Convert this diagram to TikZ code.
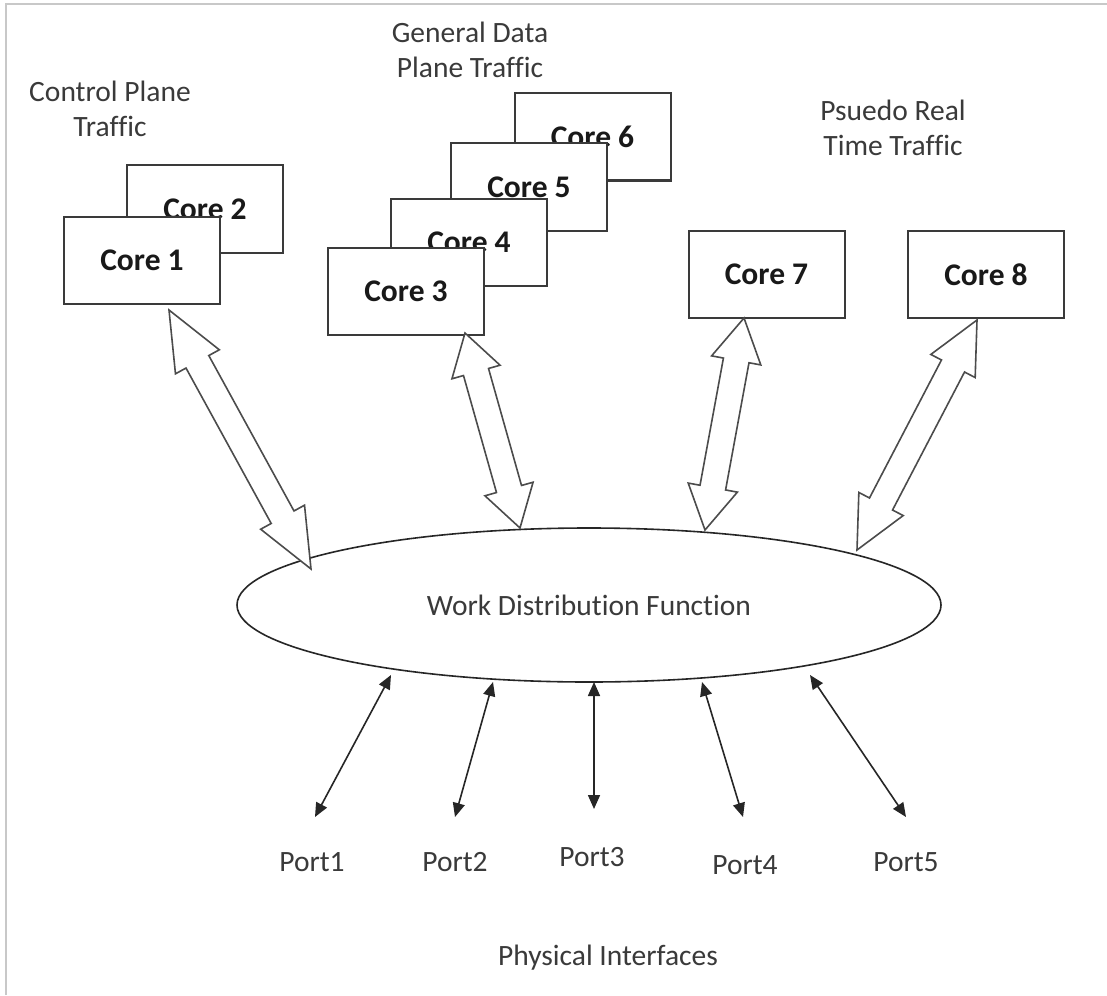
\documentclass[tikz,border=0pt]{standalone}
\usepackage{fontspec}
\setmainfont[Ligatures=NoCommon]{Carlito}
\usetikzlibrary{calc,arrows.meta,shapes.geometric}

\definecolor{inkgray}{RGB}{58,58,58}
\definecolor{framegray}{RGB}{200,200,200}

% Hollow double-headed block arrow between two named points
\newcommand\blockarrow[2]{%
  \coordinate (bah) at ($(#1)!0.2!(#2)$);
  \coordinate (bat) at ($(#2)!0.2!(#1)$);
  \draw[hollowarrow] (#1)
    -- ($(bah)!25pt!90:(#2)$) -- ($(bah)!13pt!90:(#2)$)
    -- ($(bat)!13pt!-90:(#1)$) -- ($(bat)!25pt!-90:(#1)$)
    -- (#2)
    -- ($(bat)!25pt!90:(#1)$) -- ($(bat)!13pt!90:(#1)$)
    -- ($(bah)!13pt!-90:(#2)$) -- ($(bah)!25pt!-90:(#2)$)
    -- cycle;}

\begin{document}
\begin{tikzpicture}[x=1pt, y=-1pt,
  corebox/.style={draw=inkgray, line width=2pt, fill=white,
    minimum width=156pt, minimum height=87pt, inner sep=0pt,
    text=black!90, font=\fontsize{31.5}{36}\selectfont\bfseries},
  lbl/.style={align=center, text=inkgray, inner sep=0pt,
    font=\fontsize{29.5}{35}\selectfont},
  hollowarrow/.style={draw=black!70, line width=1.6pt, fill=white, line join=miter},
  portarrow/.style={{Triangle[length=14pt,width=12pt]}-{Triangle[length=14pt,width=12pt]},
    line width=1.6pt, draw=black!85}]

\useasboundingbox (0,0) rectangle (1107,995);
\fill[white] (0,0) rectangle (1107,995);
\draw[framegray, line width=2pt] (6,995) -- (6,4) -- (1107,4);

% group labels
\node[lbl] (cpt) at (110,109) {Control Plane\\Traffic};
\node[lbl] (gdt) at (470,50) {General Data\\Plane Traffic};
\node[lbl] (prt) at (893,128) {Psuedo Real\\Time Traffic};

% cores
\node[corebox] (core2) at (205,209) {Core 2};
\node[corebox] (core1) at (142,260) {Core 1};
\node[corebox] (core6) at (592.5,137) {Core 6};
\node[corebox] (core5) at (529,187) {Core 5};
\node[corebox] (core4) at (469,242) {Core 4};
\node[corebox] (core3) at (406,291.5) {Core 3};
\node[corebox] (core7) at (766.5,274.5) {Core 7};
\node[corebox] (core8) at (986,274.5) {Core 8};

% work distribution
\node[ellipse, draw=black!85, line width=1.6pt, minimum width=704pt,
  minimum height=154pt, inner sep=0pt, text=inkgray,
  font=\fontsize{29.5}{35}\selectfont] (wdf) at (589,605) {Work Distribution Function};

% block arrow end points
\coordinate (a1) at (169,310);  \coordinate (a2) at (311,569);
\coordinate (b1) at (465,333);  \coordinate (b2) at (520,528);
\coordinate (c1) at (744,318);  \coordinate (c2) at (705,530);
\coordinate (d1) at (977,320);  \coordinate (d2) at (857,550);
\blockarrow{a1}{a2}
\blockarrow{b1}{b2}
\blockarrow{c1}{c2}
\blockarrow{d1}{d2}

% ports
\node[lbl] (port1) at (312,862) {Port1};
\node[lbl] (port2) at (455,862) {Port2};
\node[lbl] (port3) at (592,857) {Port3};
\node[lbl] (port4) at (745,865) {Port4};
\node[lbl] (port5) at (906,862) {Port5};
\node[lbl] (phys) at (608,958) {Physical Interfaces};

\coordinate (pt1) at (391,675); \coordinate (pb1) at (315,817);
\coordinate (pt2) at (493,682); \coordinate (pb2) at (455,817);
\coordinate (pt3) at (594,682); \coordinate (pb3) at (594,809);
\coordinate (pt4) at (702,682); \coordinate (pb4) at (743,817);
\coordinate (pt5) at (810,675); \coordinate (pb5) at (906,817);
\foreach \i in {1,...,5} \draw[portarrow] (pt\i) -- (pb\i);
\end{tikzpicture}
\end{document}
